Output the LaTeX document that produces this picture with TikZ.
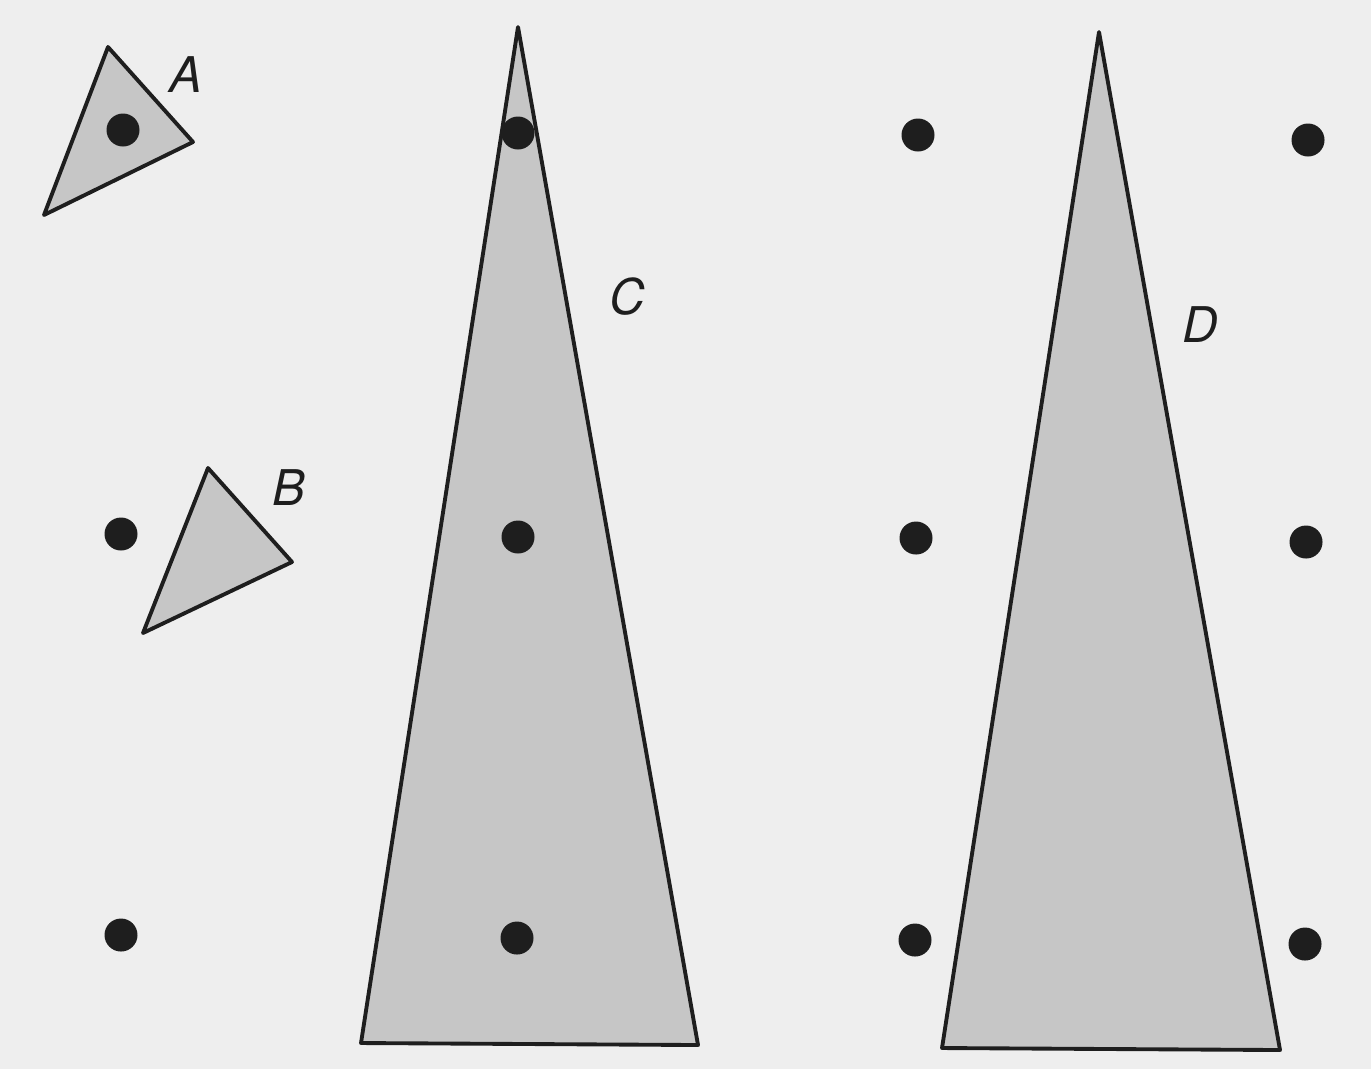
\documentclass[tikz,border=0pt]{standalone}
\usepackage{fontspec}
\setmainfont{TeX Gyre Heros}
\usetikzlibrary{positioning, calc}
\definecolor{paper}{HTML}{EEEEEE}
\definecolor{shadegray}{HTML}{C6C6C6}
\definecolor{inkdark}{HTML}{1E1E1E}
\tikzset{
  sample/.style={circle, fill=inkdark, inner sep=0pt, minimum size=3.3mm},
  footprint/.style={fill=shadegray, draw=inkdark, line width=1.1pt, line join=round},
  tag/.style={font=\fontsize{14}{16}\selectfont\itshape, text=inkdark, inner sep=0pt}
}
\begin{document}
\begin{tikzpicture}[x=0.1mm, y=-0.1mm]
        \fill[paper] (0,0) rectangle (1371,1069);
        \useasboundingbox (0,0) rectangle (1371,1069);
        % pixel footprints
        \draw[footprint] (108,47) -- (193,142) -- (44,215) -- cycle;
        \draw[footprint] (208,468) -- (292,562) -- (143,633) -- cycle;
        \draw[footprint] (518,27) -- (698,1045) -- (361,1043) -- cycle;
        \draw[footprint] (1099,32) -- (1280,1050) -- (942,1048) -- cycle;
        % sample points
        \foreach \name/\px/\py in {s11/123/130, s12/518/133, s13/918/135, s14/1308/140,
                                   s21/121/534, s22/518/537, s23/916/538, s24/1306/542,
                                   s31/121/935, s32/517/938, s33/915/940, s34/1305/944}
          \node[sample] (\name) at (\px,\py) {};
        % labels
        \node[tag] (lblA) at (186,75) {A};
        \node[tag] (lblB) at (289,488) {B};
        \node[tag] (lblC) at (627,297) {C};
        \node[tag] (lblD) at (1200,325) {D};
      \end{tikzpicture}
\end{document}
